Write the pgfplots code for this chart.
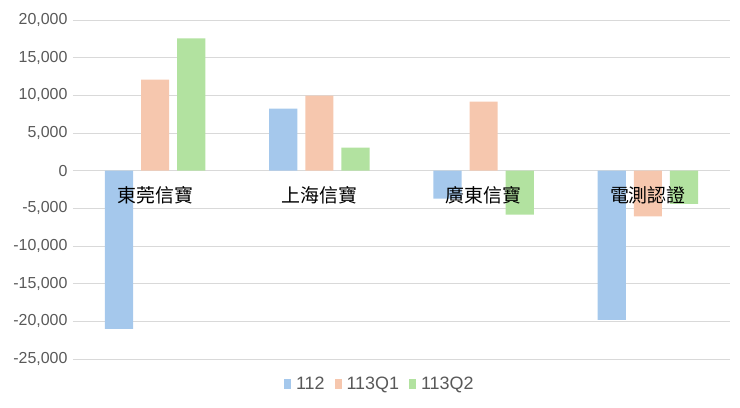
\documentclass[border=0pt]{standalone}
\usepackage{fontspec}
\setmainfont{Liberation Sans}
\newfontfamily\cjk{Noto Sans CJK TC}
\usepackage{pgfplots}
\pgfplotsset{compat=1.18}
\definecolor{cblue}{RGB}{165,200,236}
\definecolor{corange}{RGB}{246,199,174}
\definecolor{cgreen}{RGB}{178,226,160}
\definecolor{cgrid}{RGB}{217,217,217}
\definecolor{ctext}{RGB}{89,89,89}
\begin{document}
\begin{tikzpicture}
\begin{axis}[
  scale only axis, width=657bp, height=339bp,
  at={(0,0)}, anchor=south west,
  xmin=-0.5, xmax=3.5, ymin=-25000, ymax=20000,
  ybar, bar width=0.171,
  axis line style={draw=none},
  xtick=\empty,
  ytick={-25000,-20000,...,20000},
  scaled y ticks=false,
  yticklabel={\pgfmathprintnumber[fixed,precision=0,1000 sep={,},assume math mode=true]{\tick}},
  ymajorgrids, grid style={cgrid, line width=1bp},
  major tick style={draw=none},
  yticklabel style={font=\fontsize{16}{18}\selectfont, text=ctext, xshift=-2bp},
  legend style={at={(0.467,-0.074)}, anchor=center, draw=none, legend columns=3,
    font=\fontsize{18}{20}\selectfont, text=ctext,
    /tikz/every even column/.append style={column sep=8bp}},
  legend image code/.code={\fill[#1] (0bp,-5bp) rectangle (7bp,5bp); \path (10bp,0bp);},
]
\addplot[fill=cblue, draw=none, bar shift=-0.22] coordinates {(0,-21000) (1,8240) (2,-3720) (3,-19800)};
\addplot[fill=corange, draw=none, bar shift=0] coordinates {(0,12100) (1,9970) (2,9180) (3,-6070)};
\addplot[fill=cgreen, draw=none, bar shift=0.22] coordinates {(0,17550) (1,3060) (2,-5850) (3,-4400)};
\legend{112,113Q1,113Q2}
\node[font=\cjk\fontsize{19}{21}\selectfont, text=black] at (axis cs:0,-3300) {東莞信寶};
\node[font=\cjk\fontsize{19}{21}\selectfont, text=black] at (axis cs:1,-3300) {上海信寶};
\node[font=\cjk\fontsize{19}{21}\selectfont, text=black] at (axis cs:2,-3300) {廣東信寶};
\node[font=\cjk\fontsize{19}{21}\selectfont, text=black] at (axis cs:3,-3300) {電測認證};
\end{axis}
\pgfresetboundingbox
\useasboundingbox (-73bp,-49bp) rectangle (667bp,359bp);
\end{tikzpicture}
\end{document}
